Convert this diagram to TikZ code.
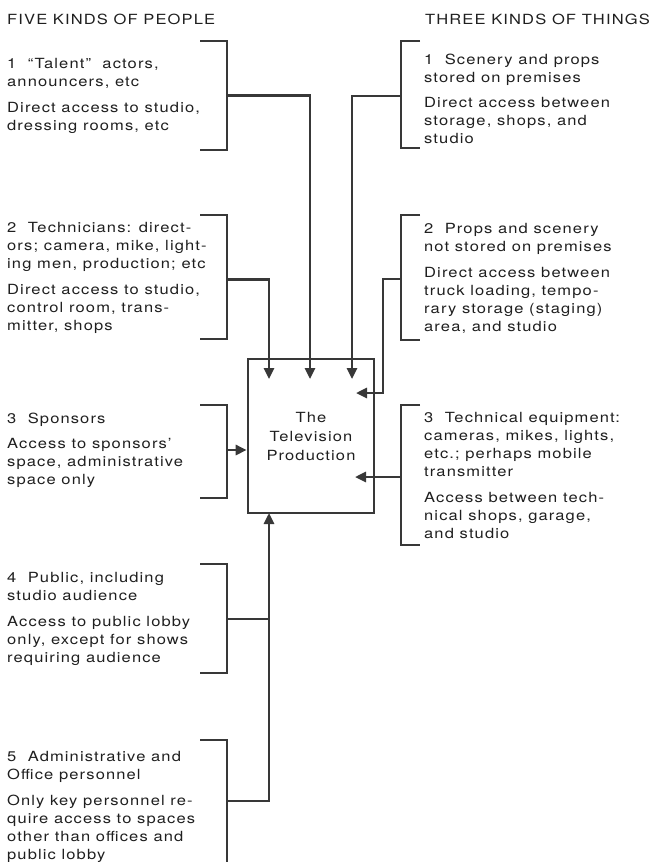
\documentclass[tikz,border=0pt]{standalone}
\usepackage{fontspec}
\setmainfont{TeX Gyre Heros}[FakeStretch=1.18,LetterSpace=8]
\usetikzlibrary{arrows.meta}
\definecolor{ink}{HTML}{383838}
\tikzset{
  txt/.style={anchor=north west, align=left, inner sep=0pt, text=black!88,
    font=\fontsize{14}{18}\selectfont},
  brk/.style={draw=ink, line width=2.6pt},
  link/.style={draw=ink, line width=2.6pt, -{Triangle[width=10pt,length=11pt]}}
}
\begin{document}
\begin{tikzpicture}[x=1pt,y=-1pt]
\useasboundingbox (0,0) rectangle (653,862);
\node[txt, anchor=base west] (ttl) at (7,24) {FIVE KINDS OF PEOPLE};
\node[txt, anchor=base east] (ttr) at (650,24) {THREE KINDS OF THINGS};
% people
\node[txt] (p1) at (7,58.5) {1\ \ ``Talent''\ \ actors,\\announcers, etc\\[7.5pt]Direct access to studio,\\dressing rooms, etc};
\node[txt] (p2) at (7,222.5) {2\ \ Technicians: direct-\\ors; camera, mike, light-\\ing men, production; etc\\[7.5pt]Direct access to studio,\\control room, trans-\\mitter, shops};
\node[txt] (p3) at (7,412.5) {3\ \ Sponsors\\[7.5pt]Access to sponsors'\\space, administrative\\space only};
\node[txt] (p4) at (7,572.5) {4\ \ Public, including\\studio audience\\[7.5pt]Access to public lobby\\only, except for shows\\requiring audience};
\node[txt] (p5) at (7,751.5) {5\ \ Administrative and\\Office personnel\\[7.5pt]Only key personnel re-\\quire access to spaces\\other than offices and\\public lobby};
% things
\node[txt] (t1) at (424,53.5) {1\ \ Scenery and props\\stored on premises\\[7.5pt]Direct access between\\storage, shops, and\\studio};
\node[txt] (t2) at (424,223.5) {2\ \ Props and scenery\\not stored on premises\\[7.5pt]Direct access between\\truck loading, tempo-\\rary storage (staging)\\area, and studio};
\node[txt] (t3) at (424,412.5) {3\ \ Technical equipment:\\cameras, mikes, lights,\\etc.; perhaps mobile\\transmitter\\[7.5pt]Access between tech-\\nical shops, garage,\\and studio};
% the production
\node[draw=ink, line width=2.6pt, minimum width=126pt, minimum height=154pt,
  align=center, text=black!88, font=\fontsize{14}{19}\selectfont] (prod) at (311,436)
  {The\\Television\\Production};
% brackets
\draw[brk] (200,41) -| (227,150) -- (200,150);
\draw[brk] (200,215) -| (227,339) -- (200,339);
\draw[brk] (200,405) -| (227,498) -- (200,498);
\draw[brk] (200,564) -| (227,673) -- (200,673);
\draw[brk] (200,740) -| (227,862);
\draw[brk] (420,41) -| (401,148) -- (420,148);
\draw[brk] (420,215) -| (401,340) -- (420,340);
\draw[brk] (420,405) -| (401,545) -- (420,545);
\coordinate (lb1) at (227,95.5);
\coordinate (lb2) at (227,279.5);
\coordinate (lb3) at (227,450);
\coordinate (lb4) at (227,619);
\coordinate (lb5) at (227,801);
\coordinate (rb1) at (401,96);
\coordinate (rb2) at (401,279);
\coordinate (rb3) at (401,477);
\coordinate (in1) at (310,379);
\coordinate (in2) at (269,379);
\coordinate (in3) at (352,379);
\coordinate (kink) at (383,393);
\coordinate (in4) at (356,393);
\coordinate (in5) at (355,477);
\coordinate (up) at (269,513);
% connectors
\draw[link] (lb1) -| (in1);
\draw[link] (lb2) -| (in2);
\draw[link] (lb3) -- (lb3 -| prod.west);
\draw[brk] (lb4) -- (lb4 -| up);
\draw[link] (lb5) -| (up);
\draw[link] (rb1) -| (in3);
\draw[link] (rb2) -| (kink) -- (in4);
\draw[link] (rb3) -- (in5);
\end{tikzpicture}
\end{document}
